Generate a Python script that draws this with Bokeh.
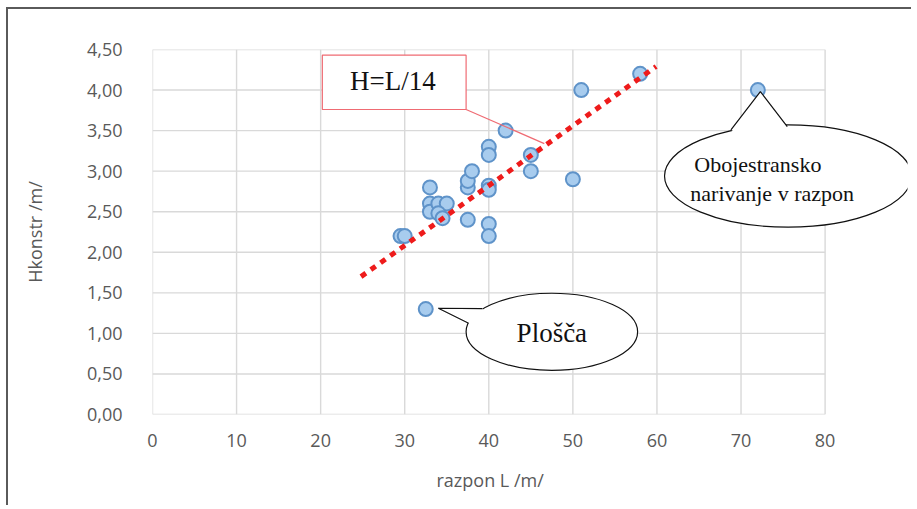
from bokeh.plotting import figure
from bokeh.models import Range1d, Title, CustomJSTickFormatter, FixedTicker
from bokeh.core.properties import value
from bokeh.embed import file_html
from bokeh.resources import INLINE

# ---------------- data ----------------
span_L = [29.5, 30.0, 32.5, 33.0, 33.0, 33.0, 34.0, 35.0, 34.0, 34.5,
          37.5, 37.5, 37.5, 38.0, 40.0, 40.0, 40.0, 40.0, 40.0, 40.0,
          42.0, 45.0, 45.0, 50.0, 51.0, 58.0, 72.0]
height_H = [2.20, 2.20, 1.30, 2.80, 2.60, 2.50, 2.60, 2.60, 2.48, 2.42,
            2.40, 2.80, 2.88, 3.00, 3.30, 3.20, 2.82, 2.77, 2.35, 2.20,
            3.50, 3.20, 3.00, 2.90, 4.00, 4.20, 4.00]
# dotted trend line "H=L/14" as drawn in the picture
trend_L = [24.8, 59.9]
trend_H = [1.70, 4.29]

x_ticks = [0, 10, 20, 30, 40, 50, 60, 70, 80]
y_ticks = [0.0, 0.5, 1.0, 1.5, 2.0, 2.5, 3.0, 3.5, 4.0, 4.5]

x_label = "razpon L /m/"
y_label = "Hkonstr /m/"
formula_text = "H=L/14"
slab_text = "Plošča"
push_text = ["Obojestransko", "narivanje v razpon"]

# ---------------- figure ----------------
GRID = "#d9d9d9"
TXT = "#595959"

p = figure(width=905, height=498,
           x_range=Range1d(0, 89.8), y_range=Range1d(0, 4.5),
           output_backend="svg", toolbar_location=None,
           min_border_left=144, min_border_top=40,
           min_border_bottom=93, min_border_right=6,
           styles={"border-top": "2px solid #5a5a5a",
                   "border-left": "2px solid #5a5a5a",
                   "margin-left": "6px", "margin-top": "7px"})
p.title = None
p.outline_line_color = None
p.xgrid.visible = False
p.ygrid.visible = False

# gridlines restricted to the 0..80 area
p.segment(x0=x_ticks, x1=x_ticks, y0=[y_ticks[0]] * len(x_ticks),
          y1=[y_ticks[-1]] * len(x_ticks), line_color=GRID, line_width=1.4)
p.segment(x0=[x_ticks[0]] * len(y_ticks), x1=[x_ticks[-1]] * len(y_ticks),
          y0=y_ticks, y1=y_ticks, line_color=GRID, line_width=1.4)

# axes
for ax in (p.xaxis[0], p.yaxis[0]):
    ax.axis_line_color = None
    ax.major_tick_line_color = None
    ax.minor_tick_line_color = None
    ax.major_label_text_font = "Open Sans"
    ax.major_label_text_font_size = "18px"
    ax.major_label_text_color = TXT
p.xaxis.ticker = FixedTicker(ticks=x_ticks)
p.xaxis.bounds = (0, 80)
p.xaxis.major_label_standoff = 13
p.yaxis.ticker = FixedTicker(ticks=y_ticks)
p.yaxis.formatter = CustomJSTickFormatter(code="return tick.toFixed(2).replace('.', ',')")
p.yaxis.major_label_standoff = 24
p.yaxis.axis_label = y_label
p.yaxis.axis_label_text_font = "Open Sans"
p.yaxis.axis_label_text_font_size = "18px"
p.yaxis.axis_label_text_font_style = "normal"
p.yaxis.axis_label_text_color = TXT
p.yaxis.axis_label_standoff = 37

# x-axis title centred under the 0..80 span (frame extends further right)
p.add_layout(Title(text=x_label, align="left", offset=284, standoff=32,
                   text_font="Open Sans", text_font_size="18px",
                   text_font_style="normal", text_color=TXT), "below")

# data points
p.scatter(span_L, height_H, size=14, fill_color="#a8ccee",
          line_color="#5f93c9", line_width=2)

# trend line
p.line(trend_L, trend_H, line_color="#ee1b1b", line_width=5,
       line_dash="6 6", line_cap="butt")

# formula callout (red box)
p.segment(x0=[37.3], y0=[3.76], x1=[46.6], y1=[3.34],
          line_color="#ef6b73", line_width=1.2)
p.quad(left=[20.2], right=[37.3], bottom=[3.76], top=[4.43],
       fill_color="white", line_color="#ef6b73", line_width=1.2)
p.text(x=[28.6], y=[4.11], text=[formula_text], text_font=value("Liberation Serif"),
       text_font_size="27px", text_align="center", text_baseline="middle",
       text_color="#111111")

# "Plošča" speech ellipse
p.ellipse(x=[47.5], y=[1.02], width=[20.4], height=[0.95],
          fill_color="white", line_color="#111111", line_width=1.2)
p.patch(x=[34.0, 39.2, 41.0, 37.6], y=[1.31, 1.305, 1.1, 1.125],
        fill_color="white", line_color=None)
p.line(x=[39.2, 34.0, 37.6], y=[1.305, 1.31, 1.125], line_color="#111111",
       line_width=1.2)
p.text(x=[47.5], y=[1.0], text=[slab_text], text_font=value("Liberation Serif"),
       text_font_size="27px", text_align="center", text_baseline="middle",
       text_color="#111111")

# "Obojestransko narivanje v razpon" speech ellipse
p.ellipse(x=[75.6], y=[2.94], width=[29.4], height=[1.26],
          fill_color="white", line_color="#111111", line_width=1.2)
p.patch(x=[72.3, 68.8, 72.0, 75.5], y=[3.98, 3.51, 3.3, 3.55],
        fill_color="white", line_color=None)
p.line(x=[68.8, 72.3, 75.5], y=[3.51, 3.98, 3.55], line_color="#111111",
       line_width=1.2)
p.text(x=[72.0, 73.7], y=[3.08, 2.72], text=push_text,
       text_font=value("Liberation Serif"), text_font_size="22px",
       text_align="center", text_baseline="middle", text_color="#111111")

open("out.html", "w").write(file_html(p, INLINE))
